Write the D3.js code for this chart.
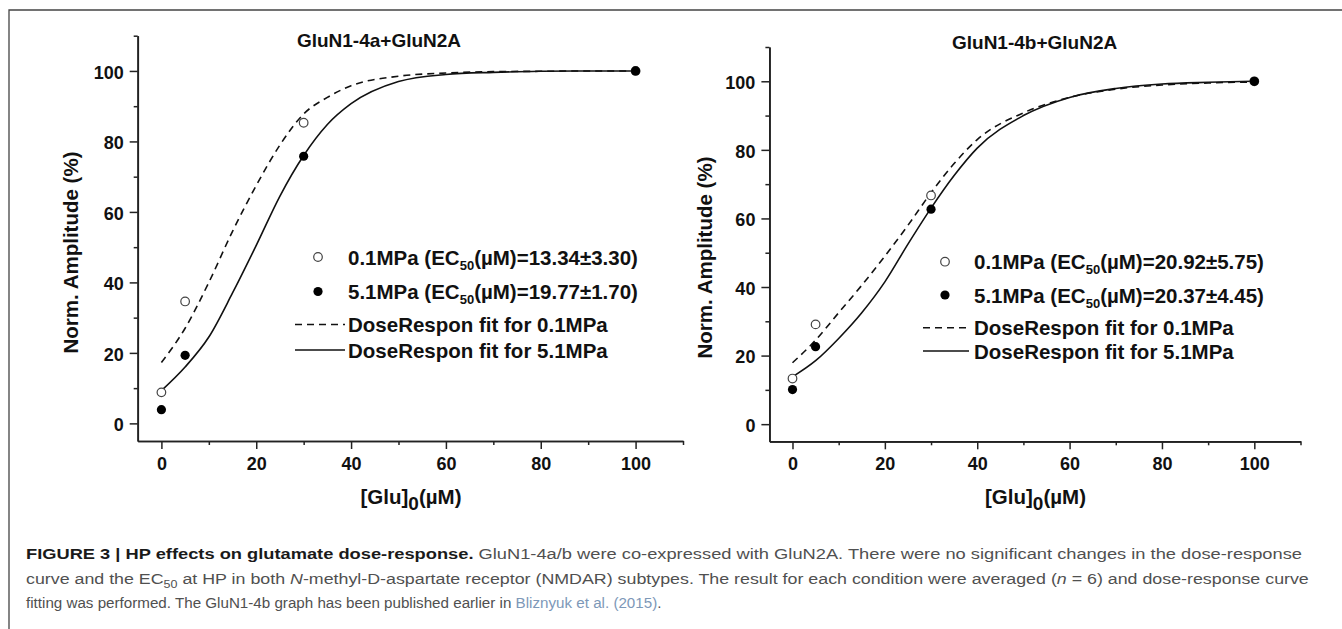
<!DOCTYPE html>
<html>
<head>
<meta charset="utf-8">
<script src="https://cdn.jsdelivr.net/npm/d3@7"></script>
<style>
  html, body { margin: 0; padding: 0; background: #fff; }
  svg { display: block; }
</style>
</head>
<body>
<div id="figure"></div>
<script>
// ############################################################################
// Data
// ############################################################################

// measured glutamate concentrations [µM]
const glutamate = [0, 5, 30, 100]

// normalised amplitudes [%] : panel A = GluN1-4a, panel B = GluN1-4b
const ampA_ctrl = [8.8, 34.6, 85.3, 100]
const ampA_hp   = [3.9, 19.3, 75.8, 100]
const ampB_ctrl = [13.3, 29.1, 66.7, 100]
const ampB_hp   = [10.1, 22.6, 62.7, 100]

// DoseResp fit curves
const fitGlutamate = [0, 5, 10, 15, 20, 25, 30, 35, 40, 50, 60, 70, 80, 90, 100]
const fitA_ctrl = [17.3, 27, 40, 54.5, 67.5, 79, 87.8, 92.5, 95.8, 98.5, 99.4, 99.8, 99.9, 100, 100]
const fitA_hp   = [9.3, 16, 24.5, 37, 50.5, 64.5, 76, 84.8, 90.7, 97, 99, 99.6, 99.9, 100, 100]
const fitB_ctrl = [17.9, 24.5, 32.5, 40.5, 49, 58, 67.5, 76, 83, 90.8, 95.3, 97.7, 98.9, 99.5, 99.8]
const fitB_hp   = [13.8, 18.5, 25, 32.5, 41.5, 52.5, 63, 72.5, 80.5, 90, 95.3, 97.9, 99.2, 99.7, 100]

// axes
const xDomain = [-5, 110]
const yDomain = [-5, 110]
const xMajorTicks = [0, 20, 40, 60, 80, 100]
const xMinorTicks = [10, 30, 50, 70, 90, 110]
const yMajorTicks = [0, 20, 40, 60, 80, 100]
const yMinorTicks = [10, 30, 50, 70, 90, 110]

// labels
const panelTitles = ["GluN1-4a+GluN2A", "GluN1-4b+GluN2A"]
const ec50Ctrl    = ["13.34\u00B13.30", "20.92\u00B15.75"]
const ec50HP      = ["19.77\u00B11.70", "20.37\u00B14.45"]
const pressures   = ["0.1MPa", "5.1MPa"]


// ############################################################################
// DoseResponsePanel                                                      View
// ############################################################################
// One of the two dose-response plots: axes, fits, points, legend
// ############################################################################

class DoseResponsePanel
{
  constructor(svg, layout, panel)
  {
    this._svg = svg
    this._layout = layout
    this._panel = panel

    this._g = svg.append("g")
      .style("font-family", "'Liberation Sans', Arial, sans-serif")
      .style("font-weight", "bold")
      .attr("fill", "#111")

    this._setupScales()
    this._drawAxes()
    this._drawFits()
    this._drawPoints()
    this._drawLabels()
    this._drawLegend()
  }


  // ==========================================================================
  // Scales
  // ==========================================================================

  _setupScales()
  {
    this._x = d3.scaleLinear().domain(xDomain).range(this._layout.xRange)
    this._y = d3.scaleLinear().domain(yDomain).range(this._layout.yRange)
  }


  // ==========================================================================
  // Axes with major and minor ticks
  // ==========================================================================

  _drawAxes()
  {
    let x0 = this._layout.xRange[0]
    let y0 = this._layout.yRange[0]

    let style = (g) =>
    {
      g.select(".domain").attr("stroke", "#222").attr("stroke-width", 1.7)
      g.selectAll(".tick line").attr("stroke", "#222").attr("stroke-width", 1.5)
      g.selectAll(".tick text")
        .attr("fill", "#111")
        .style("font-size", "18px")
        .style("font-family", "'Liberation Sans', Arial, sans-serif")
        .style("font-weight", "bold")
    }

    // minor first, so the major axis draws the domain line on top
    this._g.append("g")
      .attr("transform", "translate(0," + y0 + ")")
      .call(d3.axisBottom(this._x).tickValues(xMinorTicks).tickSize(4)
        .tickSizeOuter(0).tickFormat(""))
      .call(style)

    this._g.append("g")
      .attr("transform", "translate(0," + y0 + ")")
      .call(d3.axisBottom(this._x).tickValues(xMajorTicks).tickSize(8)
        .tickSizeOuter(0).tickPadding(8))
      .call(style)

    this._g.append("g")
      .attr("transform", "translate(" + x0 + ",0)")
      .call(d3.axisLeft(this._y).tickValues(yMinorTicks).tickSize(4)
        .tickSizeOuter(0).tickFormat(""))
      .call(style)

    this._g.append("g")
      .attr("transform", "translate(" + x0 + ",0)")
      .call(d3.axisLeft(this._y).tickValues(yMajorTicks).tickSize(8)
        .tickSizeOuter(0).tickPadding(6))
      .call(style)
      .selectAll(".tick text").attr("dy", "0.4em")
  }


  // ==========================================================================
  // Fit curves
  // ==========================================================================

  _drawFits()
  {
    let line = d3.line()
      .x(d => this._x(d[0]))
      .y(d => this._y(d[1]))
      .curve(d3.curveMonotoneX)

    let fits = [
      { values: this._panel.fitCtrl, dash: "7,5" },
      { values: this._panel.fitHP,   dash: null }
    ]

    fits.forEach(f =>
    {
      this._g.append("path")
        .datum(d3.zip(fitGlutamate, f.values))
        .attr("d", line)
        .attr("fill", "none")
        .attr("stroke", "#111")
        .attr("stroke-width", 1.6)
        .attr("stroke-dasharray", f.dash)
    })
  }


  // ==========================================================================
  // Data points
  // ==========================================================================

  _drawPoints()
  {
    this._g.append("g").selectAll("circle")
      .data(d3.zip(glutamate, this._panel.ctrl))
      .join("circle")
      .attr("cx", d => this._x(d[0]))
      .attr("cy", d => this._y(d[1]))
      .attr("r", 4.3)
      .attr("fill", "#fff")
      .attr("stroke", "#444")
      .attr("stroke-width", 1.2)

    this._g.append("g").selectAll("circle")
      .data(d3.zip(glutamate, this._panel.hp))
      .join("circle")
      .attr("cx", d => this._x(d[0]))
      .attr("cy", d => this._y(d[1]))
      .attr("r", 4.6)
      .attr("fill", "#000")
  }


  // ==========================================================================
  // Title and axis titles
  // ==========================================================================

  _drawLabels()
  {
    let L = this._layout

    this._g.append("text")
      .attr("x", L.titleX)
      .attr("y", L.titleY)
      .attr("text-anchor", "middle")
      .style("font-size", "19px")
      .text(this._panel.title)

    let xt = this._g.append("text")
      .attr("x", L.xTitleX)
      .attr("y", L.xTitleY)
      .attr("text-anchor", "middle")
      .style("font-size", "20.5px")
    xt.append("tspan").text("[Glu]")
    xt.append("tspan").attr("dy", 6).style("font-size", "19px").text("0")
    xt.append("tspan").attr("dy", -6).text("(\u00B5M)")

    this._g.append("text")
      .attr("transform", "translate(" + L.yTitleX + "," + L.yTitleY + ") rotate(-90)")
      .attr("text-anchor", "middle")
      .style("font-size", "20.5px")
      .text("Norm. Amplitude (%)")
  }


  // ==========================================================================
  // Legend
  // ==========================================================================

  _drawLegend()
  {
    let L = this._layout.legend
    let g = this._g.append("g").style("font-size", "20.5px")

    // symbol rows
    let rows = [
      { p: pressures[0], ec: this._panel.ecCtrl, open: true  },
      { p: pressures[1], ec: this._panel.ecHP,   open: false }
    ]
    rows.forEach((r, i) =>
    {
      let cy = L.rows[i]
      g.append("circle")
        .attr("cx", L.symbolX)
        .attr("cy", cy)
        .attr("r", r.open ? 4.3 : 4.6)
        .attr("fill", r.open ? "#fff" : "#000")
        .attr("stroke", r.open ? "#444" : null)
        .attr("stroke-width", 1.2)

      let t = g.append("text").attr("x", L.textX).attr("y", cy + 7.5)
      t.append("tspan").text(r.p + " (EC")
      t.append("tspan").attr("dy", 5).style("font-size", "13px").text("50")
      t.append("tspan").attr("dy", -5).text("(\u00B5M)=" + r.ec + ")")
    })

    // line rows
    let lines = [
      { p: pressures[0], dash: "7,5" },
      { p: pressures[1], dash: null }
    ]
    lines.forEach((l, i) =>
    {
      let cy = L.rows[i + 2]
      g.append("line")
        .attr("x1", L.lineX[0]).attr("x2", L.lineX[1])
        .attr("y1", cy).attr("y2", cy)
        .attr("stroke", "#111")
        .attr("stroke-width", 1.6)
        .attr("stroke-dasharray", l.dash)
      g.append("text")
        .attr("x", L.textX)
        .attr("y", cy + 7.5)
        .text("DoseRespon fit for " + l.p)
    })
  }
}


// ############################################################################
// Figure
// ############################################################################

const W = 1342
const H = 629

const svg = d3.select("#figure").append("svg")
  .attr("width", W)
  .attr("height", H)
  .attr("viewBox", "0 0 " + W + " " + H)

svg.append("rect").attr("width", W).attr("height", H).attr("fill", "#fff")

// frame (cut off at the right and bottom edges of the picture)
svg.append("path")
  .attr("d", "M9," + H + "V10H" + W)
  .attr("fill", "none")
  .attr("stroke", "#444")
  .attr("stroke-width", 1.3)

const layouts = [
  {
    xRange: [137.7, 683], yRange: [441, 35.7],
    titleX: 379, titleY: 47,
    xTitleX: 411, xTitleY: 504,
    yTitleX: 78, yTitleY: 252.5,
    legend: { symbolX: 318, textX: 348, lineX: [295, 345], rows: [257, 291.5, 324.5, 350] }
  },
  {
    xRange: [769.4, 1300.5], yRange: [441.3, 47],
    titleX: 1034.6, titleY: 48.5,
    xTitleX: 1035.5, xTitleY: 504,
    yTitleX: 712, yTitleY: 257.5,
    legend: { symbolX: 945, textX: 974, lineX: [923, 969], rows: [261.7, 295, 327.7, 351] }
  }
]

const panels = [
  { title: panelTitles[0], ctrl: ampA_ctrl, hp: ampA_hp, fitCtrl: fitA_ctrl, fitHP: fitA_hp,
    ecCtrl: ec50Ctrl[0], ecHP: ec50HP[0] },
  { title: panelTitles[1], ctrl: ampB_ctrl, hp: ampB_hp, fitCtrl: fitB_ctrl, fitHP: fitB_hp,
    ecCtrl: ec50Ctrl[1], ecHP: ec50HP[1] }
]

panels.forEach((p, i) => new DoseResponsePanel(svg, layouts[i], p))


// ============================================================================
// Caption
// ============================================================================

const captionLines = [
  [
    { t: "FIGURE 3 | HP effects on glutamate dose-response.", b: true },
    { t: " GluN1-4a/b were co-expressed with GluN2A. There were no significant changes in the dose-response" }
  ],
  [
    { t: "curve and the EC" },
    { t: "50", sub: true },
    { t: " at HP in both " },
    { t: "N", i: true },
    { t: "-methyl-D-aspartate receptor (NMDAR) subtypes. The result for each condition were averaged (" },
    { t: "n", i: true },
    { t: " = 6) and dose-response curve" }
  ],
  [
    { t: "fitting was performed. The GluN1-4b graph has been published earlier in " },
    { t: "Bliznyuk et al. (2015)", link: true },
    { t: "." }
  ]
]

// baseline and width of each line in the original
const captionBase  = [559, 584, 608]
const captionWidth = [1277, 1284, 636]

const captionG = svg.append("g")
  .style("font-family", "'Liberation Sans', Arial, sans-serif")
  .style("font-size", "15.5px")

captionLines.forEach((segs, li) =>
{
  let t = captionG.append("text").attr("x", 0).attr("y", captionBase[li]).attr("fill", "#505050")
  let shifted = false
  segs.forEach(s =>
  {
    let sp = t.append("tspan").text(s.t)
    if (s.b) sp.style("font-weight", "bold").attr("fill", "#1a1a1a")
    if (s.i) sp.style("font-style", "italic")
    if (s.link) sp.attr("fill", "#7d98b8")
    if (s.sub) { sp.attr("dy", 4).style("font-size", "0.7em"); shifted = true }
    else if (shifted) { sp.attr("dy", -4); shifted = false }
  })

  // squeeze each line horizontally to the width of the original line
  let w = t.node().getComputedTextLength()
  t.attr("transform", "translate(26,0) scale(" + (captionWidth[li] / w) + ",1)")
})
</script>
</body>
</html>
